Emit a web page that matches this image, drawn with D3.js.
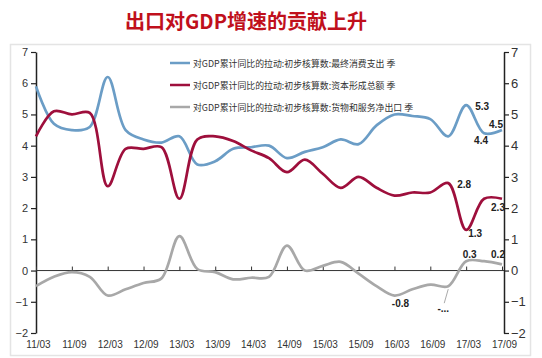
<!DOCTYPE html>
<html><head><meta charset="utf-8">
<script src="https://cdn.jsdelivr.net/npm/d3@7"></script>
<style>
html,body{margin:0;padding:0;background:#fff;}
svg{display:block;font-family:"Liberation Sans",Arial,"Noto Sans CJK SC",sans-serif;}
</style></head><body>
<svg id="c" width="542" height="358"></svg>
<script>
const categories = ["11/03","11/06","11/09","11/12","12/03","12/06","12/09","12/12","13/03","13/06","13/09","13/12","14/03","14/06","14/09","14/12","15/03","15/06","15/09","15/12","16/03","16/06","16/09","16/12","17/03","17/06","17/09"];
const consumption = [5.9,4.7,4.5,4.6,6.2,4.5,4.2,4.1,4.3,3.4,3.5,3.9,3.95,4.0,3.6,3.8,3.95,4.2,4.05,4.65,5.0,4.95,4.85,4.3,5.3,4.4,4.5];
const capital = [4.3,5.1,5.0,5.05,2.7,3.9,3.9,3.95,2.3,4.2,4.3,4.15,3.85,3.6,3.15,3.55,3.1,2.65,3.0,2.65,2.4,2.5,2.5,2.8,1.3,2.3,2.3];
const netExport = [-0.5,-0.2,-0.05,-0.2,-0.8,-0.6,-0.4,-0.25,1.1,0.05,-0.05,-0.28,-0.23,-0.2,0.8,0.0,0.15,0.28,-0.1,-0.5,-0.8,-0.6,-0.45,-0.5,0.3,0.3,0.2];
const seriesNames = ["对GDP累计同比的拉动:初步核算数:最终消费支出 季","对GDP累计同比的拉动:初步核算数:资本形成总额 季","对GDP累计同比的拉动:初步核算数:货物和服务净出口 季"];
const seriesColors = ["#6b9dc6","#9e0f3c","#a8a8a8"];
const yTicks = [-2,-1,0,1,2,3,4,5,6,7];
const xLabels = categories.filter((d,i)=>i%2===0);
// data labels: [series index, category, text]
const dataLabels = [[0,"17/03","5.3"],[0,"17/06","4.4"],[0,"17/09","4.5"],[1,"16/12","2.8"],[1,"17/03","1.3"],[1,"17/09","2.3"],[2,"16/03","-0.8"],[2,"17/03","0.3"],[2,"17/09","0.2"],[2,"16/12","-..."]];
const labelOffsets = {"5.3":[16,1],"4.4":[-3,7],"4.5":[-6,-5.5],"2.8":[16,1.5],"1.3":[9,4],"2.3":[-4,9],"-0.8":[6,8],"0.3":[3.5,-6.5],"0.2":[-4,-10],"-...":[-5,22]};

const svg = d3.select("#c");
// frame
svg.append("rect").attr("x",10.5).attr("y",44.5).attr("width",520).attr("height",311)
  .attr("fill","#fff").attr("stroke","#e4e4e4").attr("stroke-width",1.5);
// title
svg.append("text").attr("x",246).attr("y",29).attr("text-anchor","middle")
  .attr("font-family","'Noto Sans CJK SC',sans-serif").attr("font-weight",700)
  .attr("font-size",20).attr("fill","#c0101c").text("出口对GDP增速的贡献上升");

const x = d3.scalePoint().domain(categories).range([36,502]);
const y = d3.scaleLinear().domain([-2,7]).range([333,52]);

// left axis
const gl = svg.append("g").attr("transform","translate(36,0)")
  .call(d3.axisLeft(y).tickValues(yTicks).tickSize(5).tickSizeOuter(0).tickPadding(3).tickFormat(d3.format("d")));
// right axis
const gr = svg.append("g").attr("transform","translate(504,0)")
  .call(d3.axisRight(y).tickValues(yTicks).tickSize(5).tickSizeOuter(0).tickPadding(2).tickFormat(d3.format("d")));
[gl,gr].forEach(g=>{
  g.select(".domain").attr("stroke","#222").attr("stroke-width",1.5);
  g.selectAll(".tick line").attr("stroke","#222").attr("stroke-width",1.2);
  g.selectAll(".tick text").attr("fill","#333");
});
gl.selectAll(".tick text").attr("font-size",11);
gr.selectAll(".tick text").attr("font-size",13);

// zero line with ticks
const gz = svg.append("g").attr("transform",`translate(0,${y(0)})`)
  .call(d3.axisBottom(x).tickValues(xLabels).tickSize(-4).tickSizeOuter(0).tickFormat(""));
gz.select(".domain").attr("stroke","#333").attr("stroke-width",1).attr("d",`M36,0H504`);
gz.selectAll(".tick line").attr("stroke","#333");
// category labels
const gx = svg.append("g").attr("transform","translate(2,338)")
  .call(d3.axisBottom(x).tickValues(xLabels).tickSize(0).tickPadding(3));
gx.select(".domain").remove();
gx.selectAll(".tick text").attr("font-size",10).attr("fill","#333");

// lines
const series = [consumption, capital, netExport];
const line = d3.line().x((d,i)=>x(categories[i])).y(d=>y(d)).curve(d3.curveCatmullRom.alpha(0.5));
series.forEach((s,k)=>{
  svg.append("path").datum(s).attr("d",line).attr("fill","none")
    .attr("stroke",seriesColors[k]).attr("stroke-width",2.7).attr("stroke-linejoin","round");
});

// legend
const lg = svg.append("g");
seriesNames.forEach((n,k)=>{
  const yy = 63 + k*22;
  lg.append("line").attr("x1",170).attr("x2",190).attr("y1",yy).attr("y2",yy)
    .attr("stroke",seriesColors[k]).attr("stroke-width",2.5);
  lg.append("text").attr("x",193).attr("y",yy+3.5).attr("font-size",8.9)
    .attr("font-family","'Noto Sans CJK SC',sans-serif").attr("fill","#333").text(n);
});

// leader line for truncated label
svg.append("line").attr("x1",x("16/12")).attr("y1",y(-0.5)+3).attr("x2",x("16/12")-4).attr("y2",y(-0.5)+17)
  .attr("stroke","#aaa").attr("stroke-width",1);

// data labels
dataLabels.forEach(([k,c,t])=>{
  const v = series[k][categories.indexOf(c)];
  const o = labelOffsets[t];
  svg.append("text").attr("x",x(c)+o[0]).attr("y",y(v)+o[1]+3.5).attr("text-anchor","middle")
    .attr("font-size",10).attr("font-weight",700).attr("fill","#222").text(t);
});
</script></body></html>
